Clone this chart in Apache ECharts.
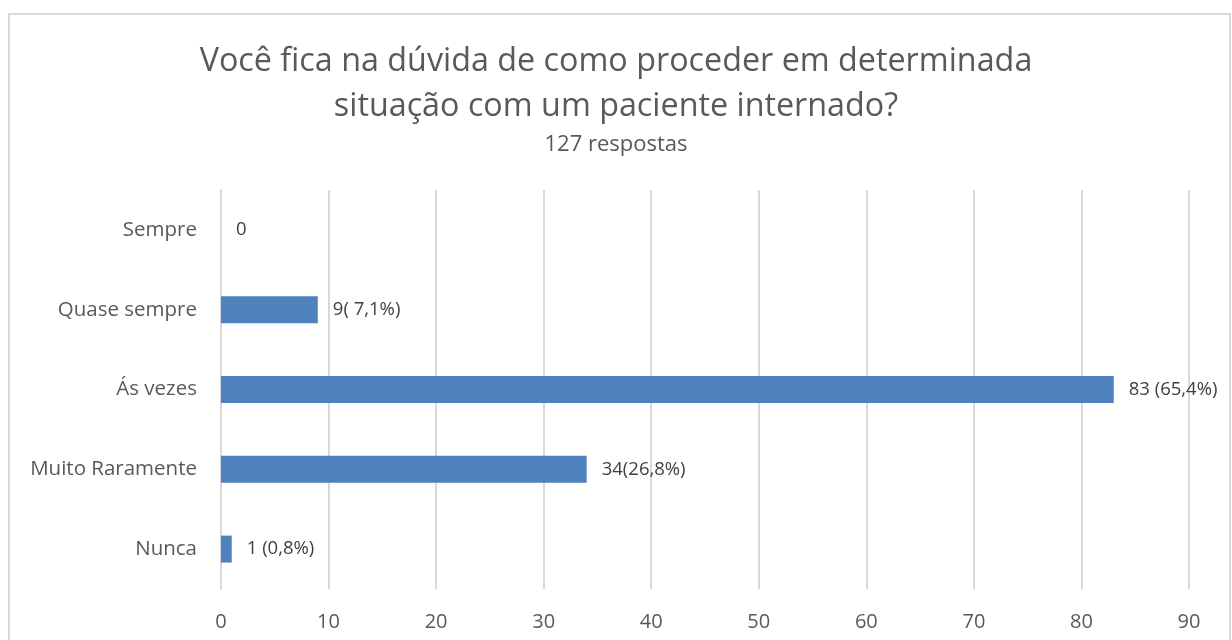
<!DOCTYPE html>
<html>
<head>
<meta charset="utf-8">
<script src="https://cdn.jsdelivr.net/npm/echarts@6/dist/echarts.min.js"></script>
<style>
  html, body { margin: 0; padding: 0; background: #fff; }
  #chart { width: 1232px; height: 640px; }
</style>
</head>
<body>
<div id="chart"></div>
<script>
// data (top to bottom as shown)
var categories = ['Sempre', 'Quase sempre', 'Ás vezes', 'Muito Raramente', 'Nunca'];
var values = [0, 9, 83, 34, 1];
var labels = ['0', '9( 7,1%)', '83 (65,4%)', '34(26,8%)', '1 (0,8%)'];
var xTicks = [0, 10, 20, 30, 40, 50, 60, 70, 80, 90];

var font = 'Open Sans';
var chart = echarts.init(document.getElementById('chart'));

chart.setOption({
    backgroundColor: '#fff',
    textStyle: { fontFamily: font },
    title: {
        text: 'Você fica na dúvida de como proceder em determinada\nsituação com um paciente internado?',
        subtext: '127 respostas',
        left: 'center',
        top: 34,
        itemGap: 5,
        textStyle: {
            fontFamily: font,
            fontWeight: 'normal',
            fontSize: 32.3,
            lineHeight: 45,
            color: '#595959'
        },
        subtextStyle: {
            fontFamily: font,
            fontSize: 22,
            color: '#595959'
        }
    },
    graphic: [{
        type: 'rect',
        shape: { x: 9, y: 14, width: 1221, height: 700 },
        style: { fill: 'none', stroke: '#d9d9d9', lineWidth: 2 },
        silent: true
    }],
    grid: {
        left: 221,
        right: 43,
        top: 190,
        bottom: 51
    },
    xAxis: {
        type: 'value',
        min: xTicks[0],
        max: xTicks[xTicks.length - 1],
        interval: 10,
        axisLine: { show: false },
        axisTick: { show: false },
        axisLabel: {
            fontFamily: font,
            fontSize: 20,
            color: '#595959',
            margin: 23
        },
        splitLine: { lineStyle: { color: '#d9d9d9', width: 2 } }
    },
    yAxis: {
        type: 'category',
        inverse: true,
        data: categories,
        axisLine: { lineStyle: { color: '#d9d9d9', width: 2 } },
        axisTick: { show: false },
        axisLabel: {
            fontFamily: font,
            fontSize: 20.5,
            color: '#595959',
            margin: 24
        }
    },
    series: [{
        type: 'bar',
        data: values,
        barWidth: 27,
        itemStyle: { color: '#4f81bd' },
        label: {
            show: true,
            position: 'right',
            distance: 15,
            fontFamily: font,
            fontSize: 18.5,
            color: '#404040',
            formatter: function (p) { return labels[p.dataIndex]; }
        }
    }]
});
</script>
</body>
</html>
